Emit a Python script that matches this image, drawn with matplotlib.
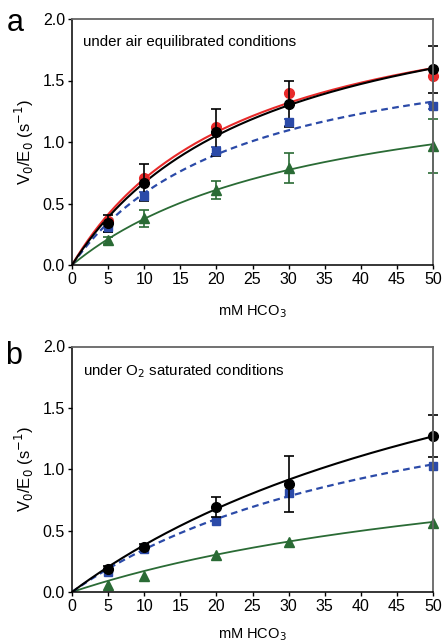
import numpy as np
import matplotlib.pyplot as plt

plt.rcParams['font.family'] = ['Liberation Sans', 'DejaVu Sans']

# substrate concentrations (mM HCO3)
conc = [5, 10, 20, 30, 50]

# panel a: air equilibrated
a_red = [0.36, 0.71, 1.12, 1.40, 1.54]
a_black = [0.34, 0.67, 1.08, 1.31, 1.59]
a_black_err = [0.07, 0.15, 0.19, 0.19, 0.19]
a_blue = [0.31, 0.56, 0.93, 1.16, 1.29]
a_blue_err = [0.04, 0.03, 0.03, 0.03, 0.02]
a_green = [0.20, 0.38, 0.61, 0.79, 0.97]
a_green_err = [0.03, 0.07, 0.07, 0.12, 0.22]

# panel b: O2 saturated
b_black = [0.19, 0.37, 0.69, 0.88, 1.27]
b_black_err = [0.02, 0.02, 0.08, 0.23, 0.17]
b_blue = [0.16, 0.35, 0.58, 0.81, 1.03]
b_green = [0.06, 0.13, 0.30, 0.41, 0.56]

# Michaelis-Menten fit parameters (Vmax, Km)
a_fits = {'red': (2.36, 23.7), 'black': (2.45, 26.6), 'blue': (1.95, 23.4), 'green': (1.65, 34.0)}
b_fits = {'black': (3.01, 68.7), 'blue': (2.08, 50.0), 'green': (1.37, 70.0)}

RED = '#e82a2a'
BLACK = '#000000'
BLUE = '#2b4aa8'
GREEN = '#2a6b35'


def mm(x, vmax, km):
    return vmax * x / (km + x)


def style_axes(ax, xpad):
    ax.set_xlim(0, 50)
    ax.set_ylim(0, 2.0)
    ax.set_xticks(range(0, 51, 5))
    ax.set_yticks([0, 0.5, 1.0, 1.5, 2.0])
    ax.set_yticklabels(['0.0', '0.5', '1.0', '1.5', '2.0'])
    ax.tick_params(direction='out', length=3, width=1, labelsize=11.5, pad=2)
    for s in ['top', 'right']:
        ax.spines[s].set_color('#666666')
        ax.spines[s].set_linewidth(1.3)
    for s in ['left', 'bottom']:
        ax.spines[s].set_linewidth(1.1)
    ax.set_xlabel('mM HCO$_3$', fontsize=10.5, labelpad=xpad)
    ax.set_ylabel('V$_0$/E$_0$ (s$^{-1}$)', fontsize=12, labelpad=5)


def errbars(ax, y, err, color, marker, ms):
    c = ax.errorbar(conc, y, yerr=err, color=color, marker=marker, ms=ms,
                    capsize=3.5, elinewidth=1.2, capthick=1.2, linestyle='none')
    for art in c.get_children():
        art.set_clip_on(False)


fig = plt.figure(figsize=(4.42, 6.43), dpi=100)
axa = fig.add_axes([72 / 442, 1 - 265 / 643, 361 / 442, 246 / 643])
axb = fig.add_axes([72 / 442, 1 - 592 / 643, 361 / 442, 245.5 / 643])

xs = np.linspace(0, 50, 200)

# panel a
axa.plot(xs, mm(xs, *a_fits['green']), color=GREEN, lw=1.3)
axa.plot(xs, mm(xs, *a_fits['blue']), color=BLUE, lw=1.6, ls=(0, (3, 2)))
axa.plot(xs, mm(xs, *a_fits['red']), color=RED, lw=1.5)
axa.plot(xs, mm(xs, *a_fits['black']), color=BLACK, lw=1.5)
errbars(axa, a_green, a_green_err, GREEN, '^', 6.5)
errbars(axa, a_blue, a_blue_err, BLUE, 's', 6)
axa.plot(conc, a_red, 'o', color=RED, ms=7, clip_on=False)
errbars(axa, a_black, a_black_err, BLACK, 'o', 7)
style_axes(axa, 12)
axa.text(0.03, 0.935, 'under air equilibrated conditions', transform=axa.transAxes,
         fontsize=10.8, va='top')

# panel b
axb.plot(xs, mm(xs, *b_fits['green']), color=GREEN, lw=1.3)
axb.plot(xs, mm(xs, *b_fits['blue']), color=BLUE, lw=1.6, ls=(0, (3, 2)))
axb.plot(xs, mm(xs, *b_fits['black']), color=BLACK, lw=1.5)
axb.plot(conc, b_green, '^', color=GREEN, ms=6.5, clip_on=False)
axb.plot(conc, b_blue, 's', color=BLUE, ms=6, clip_on=False)
errbars(axb, b_black, b_black_err, BLACK, 'o', 7)
style_axes(axb, 9)
axb.text(0.03, 0.935, 'under O$_2$ saturated conditions', transform=axb.transAxes,
         fontsize=10.8, va='top')

fig.text(7 / 442, 1 - 31 / 643, 'a', fontsize=22, va='baseline')
fig.text(5 / 442, 1 - 364 / 643, 'b', fontsize=22, va='baseline')

fig.savefig('out.png', dpi=100)
